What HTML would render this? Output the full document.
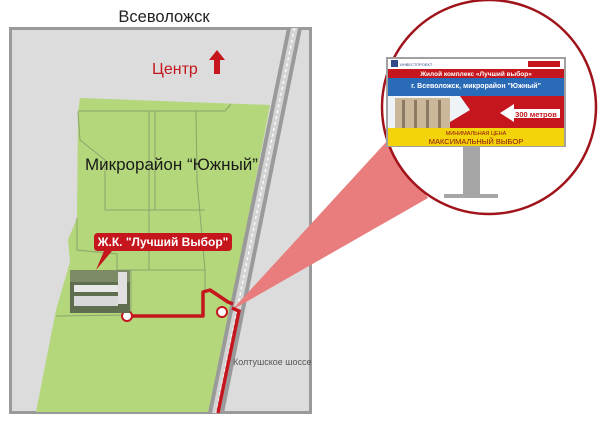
<!DOCTYPE html>
<html><head><meta charset="utf-8"><style>
html,body{margin:0;padding:0;background:#fff;width:600px;height:422px;overflow:hidden}
svg{display:block}
text{font-family:"Liberation Sans","DejaVu Sans",sans-serif}
</style></head><body>
<svg width="600" height="422" viewBox="0 0 600 422">
<text x="164" y="22" font-size="16.5" text-anchor="middle" fill="#222">Всеволожск</text>
<rect x="10.5" y="28.5" width="300" height="384" fill="#dcdcdc" stroke="#9a9a9a" stroke-width="3"/>
<!-- green -->
<polygon points="80,98 270,105 211,412 36,412 56,310 70,262 68,240 77,218 78,112" fill="#b3d77a"/>
<g stroke="#8ba46c" stroke-width="1" fill="none">
<path d="M78,111 L225,111 L231,104"/>
<path d="M149,111 V270 M155,111 V210 M196,111 L197,180 L205,270"/>
<path d="M78,112 L80,140 L105,160 L105,210 L205,210"/>
<path d="M77,218 L77,250 L117,254 L117,270 L205,270 L205,290"/>
<path d="M131,270 L131,315 L56,316"/>
</g>
<!-- road -->
<polygon points="287,28 302,28 224,413 208,413" fill="#9a9a9a"/>
<polygon points="291,28 298,28 220,413 212,413" fill="#d4d4d4"/>
<line x1="294.5" y1="28" x2="216" y2="413" stroke="#fff" stroke-width="1.3" stroke-dasharray="3,3"/>
<!-- beam -->
<polygon points="232,310 388,140 428,198" fill="#e97c7c"/>
<!-- route -->
<path d="M127,316 H203 V292 L210,290 L228,302 L233,304" fill="none" stroke="#c4161c" stroke-width="3.5" stroke-linejoin="round"/>
<path d="M232,308 L239,311 L218,413" fill="none" stroke="#c4161c" stroke-width="3.5"/>
<circle cx="127" cy="316" r="5" fill="#fff" stroke="#c4161c" stroke-width="2"/>
<circle cx="222" cy="312" r="5" fill="#fff" stroke="#c4161c" stroke-width="2"/>
<text x="233" y="365" font-size="9" fill="#555">Колтушское шоссе</text>
<!-- photo -->
<rect x="70" y="270" width="60" height="43" fill="#5f6e4f"/>
<rect x="70" y="270" width="60" height="12" fill="#7d8a66"/>
<rect x="74" y="285" width="48" height="7" fill="#e8e8e8"/>
<rect x="74" y="296" width="44" height="10" fill="#d8d8d8"/>
<rect x="118" y="272" width="9" height="32" fill="#e0e0e0"/>
<!-- callout -->
<path d="M98,233 H228 Q232,233 232,237 V247 Q232,251 228,251 H112 L96,270 L104,251 H98 Q94,251 94,247 V237 Q94,233 98,233Z" fill="#c4161c"/>
<text x="163" y="246" font-size="12" font-weight="bold" fill="#fff" text-anchor="middle">Ж.К. "Лучший Выбор"</text>
<text x="85" y="170" font-size="17" fill="#1a1a1a">Микрорайон “Южный”</text>
<text x="152" y="74" font-size="16" fill="#c4161c">Центр</text>
<polygon points="217,50 225,60 220,60 220,74 214,74 214,60 209,60" fill="#c4161c"/>
<!-- circle -->
<circle cx="489" cy="107" r="107" fill="#fff" stroke="#a0131a" stroke-width="2.5"/>
<!-- pole -->
<rect x="463" y="147" width="17" height="48" fill="#a6a6a6"/>
<rect x="444" y="194" width="54" height="4" fill="#a6a6a6"/>
<!-- billboard -->
<rect x="386" y="57" width="180" height="90" fill="#a0a0a0"/>
<rect x="388" y="59" width="176" height="10" fill="#fff"/>
<rect x="391" y="60" width="7" height="7" fill="#334a8a"/>
<text x="400" y="66" font-size="4" fill="#334a8a">ИНВЕСТПРОЕКТ</text>
<rect x="528" y="61" width="32" height="6" fill="#c4161c"/>
<rect x="388" y="69" width="176" height="9" fill="#c4161c"/>
<text x="476" y="76" font-size="6.5" fill="#fff" text-anchor="middle" font-weight="bold">Жилой комплекс «Лучший выбор»</text>
<rect x="388" y="78" width="176" height="18" fill="#2a6bb8"/>
<text x="476" y="88" font-size="7" fill="#fff" text-anchor="middle" font-weight="bold">г. Всеволожск, микрорайон "Южный"</text>
<rect x="388" y="96" width="176" height="32" fill="#c4161c"/>
<polygon points="388,96 460,96 470,110 440,128 388,128" fill="#eef3f8"/>
<rect x="395" y="98" width="55" height="30" fill="#cbb89a"/>
<g fill="#8c7a62"><rect x="402" y="100" width="3" height="28"/><rect x="414" y="100" width="3" height="28"/><rect x="426" y="100" width="3" height="28"/><rect x="438" y="100" width="3" height="28"/></g>
<polygon points="500,113 514,104 514,109 560,109 560,118 514,118 514,122" fill="#fff"/>
<text x="536" y="117" font-size="7.5" font-weight="bold" fill="#c4161c" text-anchor="middle">300 метров</text>
<rect x="388" y="128" width="176" height="18" fill="#f3d40b"/>
<text x="476" y="135" font-size="5.5" fill="#8a1010" text-anchor="middle">МИНИМАЛЬНАЯ ЦЕНА</text>
<text x="476" y="144" font-size="7.5" fill="#8a1010" text-anchor="middle">МАКСИМАЛЬНЫЙ ВЫБОР</text>
</svg>
</body></html>
